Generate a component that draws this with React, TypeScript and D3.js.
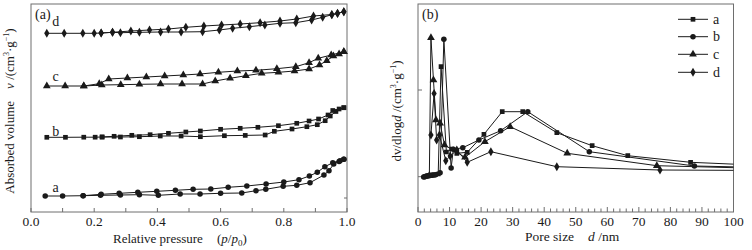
import React from 'react'
import * as d3 from 'd3'

type Pt = [number, number]

// ---- panel (a): isotherms, p/p0 vs offset volume (arbitrary units) ----
const isoNames = ['a', 'b', 'c', 'd']
const isoAds: Pt[][] = [
  [[0.045,16],[0.1,16],[0.165,16.3],[0.22,16.7],[0.283,17],[0.343,17.3],[0.403,16.7],[0.472,18],[0.535,18],[0.6,18.7],[0.667,19],[0.712,21.3],[0.743,22.7],[0.798,25.7],[0.841,26.7],[0.883,29.3],[0.927,37],[0.943,41.3],[0.958,48],[0.975,50.5],[0.99,52.7]],
  [[0.05,74.7],[0.109,74.7],[0.167,74.8],[0.203,74.8],[0.225,75],[0.283,75],[0.343,75.3],[0.409,76],[0.475,76],[0.536,75.3],[0.612,76.3],[0.678,76.6],[0.741,77],[0.77,80.7],[0.826,83],[0.873,85.3],[0.906,87.3],[0.931,91.3],[0.947,96],[0.965,100.5],[0.99,104.3]],
  [[0.05,126],[0.108,126],[0.167,126],[0.224,127],[0.284,127.3],[0.343,127.7],[0.41,128],[0.478,128],[0.543,128],[0.583,131],[0.63,133.7],[0.68,136.3],[0.73,138.7],[0.783,139.7],[0.834,141],[0.88,143],[0.913,147],[0.936,151.3],[0.957,156],[0.975,158],[0.99,160.3]],
  [[0.05,178.7],[0.105,178.7],[0.164,178.7],[0.2,178.7],[0.222,179],[0.258,179.7],[0.283,179.3],[0.343,179.7],[0.41,180],[0.475,180],[0.543,180.3],[0.596,182],[0.638,183.7],[0.691,185.3],[0.74,187],[0.788,188.7],[0.838,189.3],[0.888,192],[0.923,194.7],[0.952,197.3],[0.97,198.5],[0.99,200.3]],
]
const isoDes: Pt[][] = [
  [[0.99,52.7],[0.978,51.3],[0.955,49.3],[0.93,45.3],[0.906,39.7],[0.881,36],[0.848,32.3],[0.8,30],[0.744,28],[0.683,26],[0.624,24.7],[0.569,23],[0.513,22.7],[0.457,21.7],[0.398,20.7],[0.338,19.7],[0.279,18.7],[0.222,17.7],[0.165,16.3]],
  [[0.99,104.3],[0.975,103],[0.955,101.5],[0.94,97],[0.91,93],[0.88,91],[0.841,88.7],[0.783,86.3],[0.718,84.7],[0.662,83.7],[0.6,82.7],[0.536,81],[0.49,80],[0.435,78.7],[0.377,77.3],[0.319,76.7],[0.263,75.7],[0.225,75]],
  [[0.99,160.3],[0.95,157],[0.909,153.7],[0.88,149.3],[0.838,145.3],[0.778,143.3],[0.712,141.7],[0.653,141],[0.593,139.7],[0.535,138],[0.482,137],[0.423,136],[0.365,135],[0.305,134],[0.246,133],[0.216,128.3],[0.167,126]],
  [[0.99,200.3],[0.97,198.8],[0.952,197.5],[0.894,196],[0.841,193],[0.788,191],[0.725,189.3],[0.662,188],[0.603,187],[0.547,186],[0.49,184.7],[0.435,183],[0.375,182],[0.316,181],[0.258,179.7],[0.222,179]],
]
const isoXTicks = [0, 0.2, 0.4, 0.6, 0.8, 1.0]

// ---- panel (b): pore size distribution, d (nm) vs dv/dlogd (arbitrary units) ----
const poreNames = ['a', 'b', 'c', 'd']
const poreA: Pt[] = [[6.4,38],[7.3,145.3],[9,60],[10.7,63],[12.3,58.7],[15.6,59.7],[20.9,77.7],[26.7,100.3],[33.2,100.3],[44,79.3],[55.2,66.3],[66.5,56.3],[86.4,49.7],[110,46.5]]
const poreB: Pt[] = [[1.8,35],[2.1,35.3],[2.4,35.6],[2.7,35.9],[3,36.1],[3.3,36.3],[3.6,36.5],[3.9,36.6],[4.3,36.8],[4.7,37],[5.1,37.1],[5.6,37.3],[7,39.3],[8.2,172.7],[10.5,44],[11.2,62.7],[14.2,64.3],[19.3,72],[26.2,81.3],[34.8,100.3],[54.3,60.3],[87.6,46],[110,44.5]]
const poreC: Pt[] = [[3.6,36.5],[4.1,174.3],[4.9,132],[5.7,92],[7,88.7],[8.4,67],[14.9,54.7],[21.2,70.3],[29.2,85.3],[47.3,58.7],[75.7,46.3],[110,43.5]]
const poreD: Pt[] = [[4.1,77],[5.1,118.5],[5.9,72],[6.8,77],[8.8,51.3],[10.2,56],[12.3,62],[15.6,49.7],[23.1,60.3],[44,45.3],[76.7,42],[110,41.5]]
const poreData = [poreA, poreB, poreC, poreD]
const poreXTicks = [0, 10, 20, 30, 40, 50, 60, 70, 80, 90, 100]
const poreYTicks = [35.3, 122]

const SQ = { type: d3.symbolSquare, size: 22 }
const CI = { type: d3.symbolCircle, size: 24 }
const TR = { type: d3.symbolTriangle, size: 26 }
const DI = { type: d3.symbolDiamond, size: 24 }
const isoShapes = [CI, SQ, TR, DI]
const poreShapes = [SQ, CI, TR, DI]

const FONT = '"Liberation Serif", "Times New Roman", serif'
const INK = '#1a1a1a'
const FRAME = '#6e6e6e'

const Markers = ({ pts, x, y, shape, clip }) => {
  const path = d3.symbol(shape.type, shape.size)()
  return (
    <g clipPath={clip}>
      {pts.map((p, k) => (
        <path key={k} d={path} fill={INK} transform={`translate(${x(p[0])},${y(p[1])})`} />
      ))}
    </g>
  )
}

const App = () => {
  const top = 4, bottom = 212

  // panel a
  const xA = d3.scaleLinear().domain([0, 1]).range([31, 347])
  const yA = d3.scaleLinear().domain([0, 208]).range([bottom, top])
  const lineA = d3.line<Pt>().x(d => xA(d[0])).y(d => yA(d[1]))
  const minorA = d3.range(0, 1.0001, 0.1)
  const labelOff = [-4, -1.5, -5.5, -7.5]

  // panel b
  const xB = d3.scaleLinear().domain([0, 100]).range([418, 733.5])
  const yB = d3.scaleLinear().domain([0, 208]).range([bottom, top])
  const lineB = d3.line<Pt>().x(d => xB(d[0])).y(d => yB(d[1]))
  const minorB = d3.range(0, 100.001, 2)
  const legY = [19.3, 36.7, 54.3, 72.3]

  return (
    <svg width={752} height={250} style={{ position: 'absolute', left: 0, top: 0, background: '#fff' }}
      fontFamily={FONT}>
      <defs>
        <clipPath id="clipB"><rect x={418} y={top} width={315.5} height={bottom - top} /></clipPath>
      </defs>

      {/* ---------- (a) ---------- */}
      <rect x={31} y={top} width={316} height={bottom - top} fill="none" stroke={FRAME} strokeWidth={1} />
      {minorA.map(t => (
        <line key={t} x1={xA(t)} x2={xA(t)} y1={bottom} y2={bottom - 4} stroke={FRAME} />
      ))}
      <line x1={347} x2={344} y1={198} y2={198} stroke={FRAME} />
      {isoXTicks.map(t => (
        <text key={t} x={xA(t)} y={226} textAnchor="middle" fontSize={13.5} fill={INK}>{d3.format('.1f')(t)}</text>
      ))}
      {isoNames.map((n, i) => (
        <g key={n}>
          <path d={lineA(isoAds[i])} fill="none" stroke={INK} strokeWidth={1} />
          <path d={lineA(isoDes[i])} fill="none" stroke={INK} strokeWidth={1} />
          <Markers pts={isoAds[i]} x={xA} y={yA} shape={isoShapes[i]} clip={undefined} />
          <Markers pts={isoDes[i]} x={xA} y={yA} shape={isoShapes[i]} clip={undefined} />
          <text x={xA(0.078)} y={yA(isoAds[i][0][1]) + labelOff[i]} textAnchor="middle" fontSize={14} fill={INK}>{n}</text>
        </g>
      ))}
      <text x={35} y={19} fontSize={14} fill={INK}>(a)</text>
      <text x={113} y={243} fontSize={13} fill={INK}>Relative pressure</text>
      <text x={217} y={243} fontSize={13} fill={INK}>(<tspan fontStyle="italic">p</tspan>/<tspan fontStyle="italic">p</tspan><tspan fontSize={9} dy={3}>0</tspan><tspan dy={-3}>)</tspan></text>
      <text transform="translate(14,111) rotate(-90)" textAnchor="middle" fontSize={13} fill={INK}>
        Absorbed volume<tspan dx={12} fontStyle="italic">v</tspan> /(cm<tspan fontSize={8} dy={-5}>3</tspan><tspan dy={5}>·g</tspan><tspan fontSize={8} dy={-5}>−1</tspan><tspan dy={5}>)</tspan>
      </text>

      {/* ---------- (b) ---------- */}
      <rect x={418} y={top} width={315.5} height={bottom - top} fill="none" stroke={FRAME} strokeWidth={1} />
      {minorB.map(t => (
        <line key={t} x1={xB(t)} x2={xB(t)} y1={bottom} y2={bottom - (t % 10 === 0 ? 5 : 3.5)} stroke={FRAME} />
      ))}
      {poreYTicks.map(t => (
        <line key={t} x1={418} x2={422} y1={yB(t)} y2={yB(t)} stroke={FRAME} />
      ))}
      {poreXTicks.map(t => (
        <text key={t} x={xB(t)} y={226} textAnchor="middle" fontSize={13.5} fill={INK}>{t}</text>
      ))}
      {poreData.map((pts, i) => (
        <g key={i}>
          <path d={lineB(pts)} fill="none" stroke={INK} strokeWidth={1} clipPath="url(#clipB)" />
          <Markers pts={pts} x={xB} y={yB} shape={poreShapes[i]} clip="url(#clipB)" />
        </g>
      ))}
      {poreNames.map((n, i) => (
        <g key={n}>
          <line x1={678} x2={708} y1={legY[i]} y2={legY[i]} stroke={INK} />
          <path d={d3.symbol(poreShapes[i].type, poreShapes[i].size)()} fill={INK} transform={`translate(693,${legY[i]})`} />
          <text x={713} y={legY[i] + 4.5} fontSize={14} fill={INK}>{n}</text>
        </g>
      ))}
      <text x={422} y={19} fontSize={14} fill={INK}>(b)</text>
      <text x={525} y={241} fontSize={13.5} fill={INK}>Pore size</text>
      <text x={588} y={241} fontSize={13.5} fill={INK}><tspan fontStyle="italic">d</tspan> /nm</text>
      <text transform="translate(401,111) rotate(-90)" textAnchor="middle" fontSize={13} fill={INK}>
        dv/dlog<tspan fontStyle="italic">d</tspan> /(cm<tspan fontSize={8} dy={-5}>3</tspan><tspan dy={5}>·g</tspan><tspan fontSize={8} dy={-5}>−1</tspan><tspan dy={5}>)</tspan>
      </text>
    </svg>
  )
}

export default App
